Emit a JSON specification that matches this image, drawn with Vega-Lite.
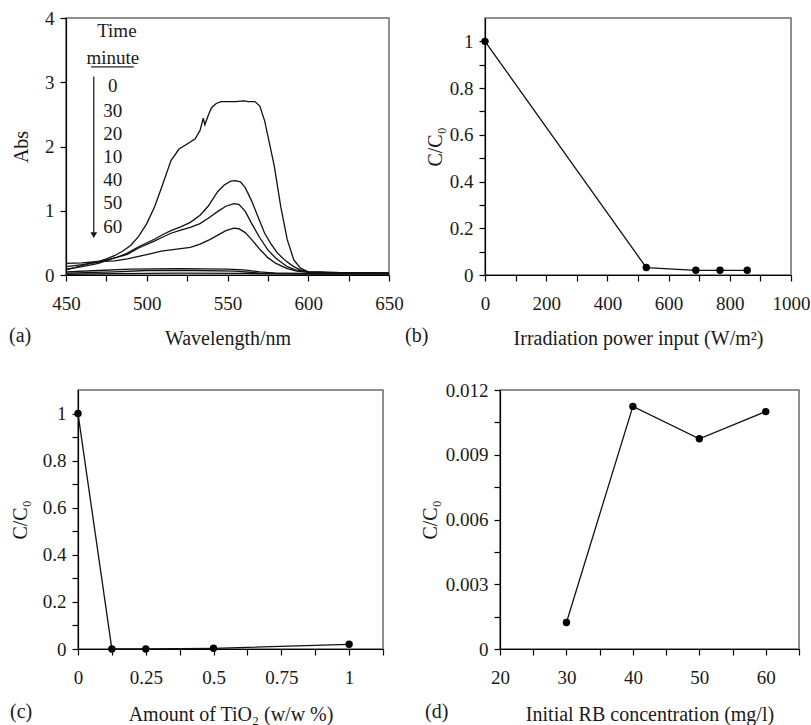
{
  "$schema": "https://vega.github.io/schema/vega-lite/v6.json",
  "background": "white",
  "padding": {"left": 0, "top": 8, "right": 0, "bottom": 0},
  "datasets": {
    "spectra": [
      {"t":"0","wl":450,"abs":0.08},{"t":"0","wl":455,"abs":0.11},{"t":"0","wl":460,"abs":0.15},{"t":"0","wl":465,"abs":0.18},{"t":"0","wl":470,"abs":0.21},{"t":"0","wl":475,"abs":0.25},{"t":"0","wl":480,"abs":0.30},{"t":"0","wl":485,"abs":0.37},{"t":"0","wl":490,"abs":0.46},{"t":"0","wl":495,"abs":0.60},{"t":"0","wl":500,"abs":0.80},{"t":"0","wl":505,"abs":1.07},{"t":"0","wl":510,"abs":1.42},{"t":"0","wl":515,"abs":1.78},{"t":"0","wl":520,"abs":1.96},{"t":"0","wl":525,"abs":2.04},{"t":"0","wl":530,"abs":2.12},{"t":"0","wl":533,"abs":2.25},{"t":"0","wl":535,"abs":2.44},{"t":"0","wl":536,"abs":2.34},{"t":"0","wl":538,"abs":2.48},{"t":"0","wl":540,"abs":2.60},{"t":"0","wl":543,"abs":2.67},{"t":"0","wl":546,"abs":2.70},{"t":"0","wl":555,"abs":2.70},{"t":"0","wl":560,"abs":2.71},{"t":"0","wl":563,"abs":2.70},{"t":"0","wl":567,"abs":2.70},{"t":"0","wl":570,"abs":2.63},{"t":"0","wl":573,"abs":2.40},{"t":"0","wl":576,"abs":2.05},{"t":"0","wl":579,"abs":1.69},{"t":"0","wl":583,"abs":1.06},{"t":"0","wl":587,"abs":0.55},{"t":"0","wl":591,"abs":0.24},{"t":"0","wl":595,"abs":0.11},{"t":"0","wl":600,"abs":0.05},{"t":"0","wl":610,"abs":0.04},{"t":"0","wl":630,"abs":0.035},{"t":"0","wl":650,"abs":0.03},
      {"t":"30","wl":450,"abs":0.09},{"t":"30","wl":460,"abs":0.13},{"t":"30","wl":470,"abs":0.18},{"t":"30","wl":476,"abs":0.23},{"t":"30","wl":482,"abs":0.28},{"t":"30","wl":488,"abs":0.34},{"t":"30","wl":495,"abs":0.44},{"t":"30","wl":505,"abs":0.56},{"t":"30","wl":510,"abs":0.63},{"t":"30","wl":515,"abs":0.69},{"t":"30","wl":521,"abs":0.75},{"t":"30","wl":527,"abs":0.82},{"t":"30","wl":533,"abs":0.93},{"t":"30","wl":538,"abs":1.07},{"t":"30","wl":544,"abs":1.30},{"t":"30","wl":548,"abs":1.40},{"t":"30","wl":552,"abs":1.46},{"t":"30","wl":555,"abs":1.47},{"t":"30","wl":558,"abs":1.45},{"t":"30","wl":561,"abs":1.36},{"t":"30","wl":565,"abs":1.15},{"t":"30","wl":569,"abs":0.90},{"t":"30","wl":573,"abs":0.65},{"t":"30","wl":577,"abs":0.48},{"t":"30","wl":581,"abs":0.34},{"t":"30","wl":586,"abs":0.22},{"t":"30","wl":591,"abs":0.13},{"t":"30","wl":595,"abs":0.08},{"t":"30","wl":600,"abs":0.05},{"t":"30","wl":620,"abs":0.035},{"t":"30","wl":650,"abs":0.03},
      {"t":"20","wl":450,"abs":0.13},{"t":"20","wl":460,"abs":0.16},{"t":"20","wl":470,"abs":0.20},{"t":"20","wl":476,"abs":0.24},{"t":"20","wl":482,"abs":0.28},{"t":"20","wl":488,"abs":0.32},{"t":"20","wl":495,"abs":0.42},{"t":"20","wl":505,"abs":0.53},{"t":"20","wl":509,"abs":0.58},{"t":"20","wl":515,"abs":0.65},{"t":"20","wl":521,"abs":0.70},{"t":"20","wl":527,"abs":0.74},{"t":"20","wl":533,"abs":0.80},{"t":"20","wl":539,"abs":0.90},{"t":"20","wl":544,"abs":0.99},{"t":"20","wl":549,"abs":1.07},{"t":"20","wl":554,"abs":1.11},{"t":"20","wl":557,"abs":1.10},{"t":"20","wl":561,"abs":0.99},{"t":"20","wl":565,"abs":0.80},{"t":"20","wl":570,"abs":0.58},{"t":"20","wl":575,"abs":0.39},{"t":"20","wl":580,"abs":0.26},{"t":"20","wl":587,"abs":0.13},{"t":"20","wl":592,"abs":0.08},{"t":"20","wl":600,"abs":0.05},{"t":"20","wl":620,"abs":0.035},{"t":"20","wl":650,"abs":0.03},
      {"t":"10","wl":450,"abs":0.18},{"t":"10","wl":460,"abs":0.19},{"t":"10","wl":470,"abs":0.21},{"t":"10","wl":480,"abs":0.22},{"t":"10","wl":488,"abs":0.25},{"t":"10","wl":495,"abs":0.29},{"t":"10","wl":502,"abs":0.33},{"t":"10","wl":509,"abs":0.37},{"t":"10","wl":515,"abs":0.39},{"t":"10","wl":521,"abs":0.41},{"t":"10","wl":527,"abs":0.43},{"t":"10","wl":533,"abs":0.48},{"t":"10","wl":539,"abs":0.55},{"t":"10","wl":544,"abs":0.62},{"t":"10","wl":549,"abs":0.69},{"t":"10","wl":554,"abs":0.73},{"t":"10","wl":557,"abs":0.72},{"t":"10","wl":561,"abs":0.66},{"t":"10","wl":565,"abs":0.55},{"t":"10","wl":570,"abs":0.40},{"t":"10","wl":575,"abs":0.27},{"t":"10","wl":580,"abs":0.18},{"t":"10","wl":587,"abs":0.10},{"t":"10","wl":593,"abs":0.06},{"t":"10","wl":600,"abs":0.04},{"t":"10","wl":620,"abs":0.035},{"t":"10","wl":650,"abs":0.03},
      {"t":"40","wl":450,"abs":0.05},{"t":"40","wl":470,"abs":0.07},{"t":"40","wl":490,"abs":0.09},{"t":"40","wl":520,"abs":0.10},{"t":"40","wl":550,"abs":0.09},{"t":"40","wl":560,"abs":0.08},{"t":"40","wl":570,"abs":0.05},{"t":"40","wl":580,"abs":0.03},{"t":"40","wl":600,"abs":0.025},{"t":"40","wl":650,"abs":0.02},
      {"t":"50","wl":450,"abs":0.03},{"t":"50","wl":480,"abs":0.05},{"t":"50","wl":500,"abs":0.07},{"t":"50","wl":530,"abs":0.07},{"t":"50","wl":555,"abs":0.06},{"t":"50","wl":570,"abs":0.03},{"t":"50","wl":600,"abs":0.02},{"t":"50","wl":650,"abs":0.02},
      {"t":"60","wl":450,"abs":0.012},{"t":"60","wl":480,"abs":0.02},{"t":"60","wl":520,"abs":0.03},{"t":"60","wl":560,"abs":0.025},{"t":"60","wl":600,"abs":0.015},{"t":"60","wl":650,"abs":0.015}
    ],
    "legendText": [
      {"label":"Time","wl":481.5,"abs":3.79},
      {"label":"minute","wl":479,"abs":3.37},
      {"label":"0","wl":479,"abs":2.94},
      {"label":"30","wl":479,"abs":2.56},
      {"label":"20","wl":479,"abs":2.19},
      {"label":"10","wl":479,"abs":1.84},
      {"label":"40","wl":479,"abs":1.48},
      {"label":"50","wl":479,"abs":1.12},
      {"label":"60","wl":479,"abs":0.75}
    ],
    "power": [
      {"p":0,"r":1},{"p":527,"r":0.032},{"p":689,"r":0.02},{"p":768,"r":0.02},{"p":857,"r":0.02}
    ],
    "tio2": [
      {"a":0,"r":1},{"a":0.125,"r":0},{"a":0.25,"r":0},{"a":0.5,"r":0.003},{"a":1,"r":0.02}
    ],
    "rb": [
      {"c":30,"r":0.00123},{"c":40,"r":0.01124},{"c":50,"r":0.00974},{"c":60,"r":0.0110}
    ]
  },
  "spacing": 31,
  "vconcat": [
    {
      "bounds": "full",
      "spacing": 0,
      "hconcat": [
        {
          "width": 8,
          "height": 1,
          "view": {"stroke": null},
          "data": {"values": [{}]},
          "mark": {"type": "point", "opacity": 0, "size": 1}
        },
        {
          "width": 323,
          "height": 257,
          "title": {"text": "(a)", "orient": "bottom", "anchor": "start", "frame": "group", "dx": -57, "offset": 0, "dy": -22},
          "layer": [
            {
              "data": {"name": "spectra"},
              "mark": {"type": "line", "color": "#111", "strokeWidth": 1.3},
              "encoding": {
                "x": {"field": "wl", "type": "quantitative", "scale": {"domain": [450, 650], "nice": false},
                  "axis": {"title": "Wavelength/nm", "values": [450,475,500,525,550,575,600,625,650], "format": "d", "labelExpr": "datum.value % 50 === 0 ? datum.label : ''", "minExtent": 28, "maxExtent": 28, "titlePadding": 25, "labelPadding": 13}},
                "y": {"field": "abs", "type": "quantitative", "scale": {"domain": [0, 4], "nice": false},
                  "axis": {"title": "Abs", "format": ".1~f", "values": [0,0.5,1,1.5,2,2.5,3,3.5,4], "labelExpr": "datum.value % 1 === 0 ? datum.label : ''", "titlePadding": 13}},
                "detail": {"field": "t"}
              }
            },
            {
              "data": {"name": "legendText"},
              "mark": {"type": "text", "fontSize": 19, "font": "Liberation Serif, Times New Roman, serif", "color": "#1a1a1a", "align": "center", "baseline": "middle"},
              "encoding": {
                "x": {"field": "wl", "type": "quantitative"},
                "y": {"field": "abs", "type": "quantitative"},
                "text": {"field": "label"}
              }
            },
            {
              "data": {"values": [{}]},
              "mark": {"type": "rule", "color": "#222", "strokeWidth": 1.2},
              "encoding": {"x": {"datum": 465.5}, "x2": {"datum": 492}, "y": {"datum": 3.24}}
            },
            {
              "data": {"values": [{}]},
              "mark": {"type": "rule", "color": "#111", "strokeWidth": 1.2},
              "encoding": {"x": {"datum": 467.2}, "y": {"datum": 3.09}, "y2": {"datum": 0.66}}
            },
            {
              "data": {"values": [{}]},
              "mark": {"type": "point", "shape": "triangle-down", "filled": true, "color": "#111", "size": 45, "opacity": 1},
              "encoding": {"x": {"datum": 467.2}, "y": {"datum": 0.62}}
            }
          ]
        },
        {
          "width": 306,
          "height": 257,
          "title": {"text": "(b)", "orient": "bottom", "anchor": "start", "frame": "group", "dx": -80, "offset": 0, "dy": -22},
          "data": {"name": "power"},
          "mark": {"type": "line", "color": "#111", "strokeWidth": 1.3, "point": {"filled": true, "size": 55, "color": "#000", "opacity": 1}},
          "encoding": {
            "x": {"field": "p", "type": "quantitative", "scale": {"domain": [0, 1000], "nice": false},
              "axis": {"title": "Irradiation power input (W/m²)", "format": "d", "values": [0,100,200,300,400,500,600,700,800,900,1000], "labelExpr": "datum.value % 200 === 0 ? datum.label : ''", "minExtent": 28, "maxExtent": 28, "titlePadding": 25, "labelPadding": 13}},
            "y": {"field": "r", "type": "quantitative", "scale": {"domain": [0, 1.1], "nice": false},
              "axis": {"title": "C/C₀", "format": ".1~f", "values": [0,0.1,0.2,0.3,0.4,0.5,0.6,0.7,0.8,0.9,1], "labelExpr": "round(datum.value*10) % 2 === 0 ? datum.label : ''", "titlePadding": 4}}
          }
        }
      ]
    },
    {
      "bounds": "full",
      "spacing": 34,
      "hconcat": [
        {
          "bounds": "full",
          "spacing": 0,
          "hconcat": [
            {
              "width": 9,
              "height": 1,
              "view": {"stroke": null},
              "data": {"values": [{}]},
              "mark": {"type": "point", "opacity": 0, "size": 1}
            },
            {
              "width": 305,
              "height": 259,
              "title": {"text": "(c)", "orient": "bottom", "anchor": "start", "frame": "group", "dx": -68, "offset": 0, "dy": -22},
              "data": {"name": "tio2"},
              "mark": {"type": "line", "color": "#111", "strokeWidth": 1.3, "point": {"filled": true, "size": 55, "color": "#000", "opacity": 1}},
              "encoding": {
                "x": {"field": "a", "type": "quantitative", "scale": {"domain": [0, 1.125], "nice": false},
                  "axis": {"title": "Amount of TiO₂ (w/w %)", "format": ".3~f", "values": [0,0.125,0.25,0.375,0.5,0.625,0.75,0.875,1,1.125], "labelExpr": "(round(datum.value*8) % 2 === 0 && datum.value < 1.1) ? datum.label : ''", "minExtent": 28, "maxExtent": 28, "titlePadding": 27, "labelPadding": 13}},
                "y": {"field": "r", "type": "quantitative", "scale": {"domain": [0, 1.1], "nice": false},
                  "axis": {"title": "C/C₀", "format": ".1~f", "values": [0,0.1,0.2,0.3,0.4,0.5,0.6,0.7,0.8,0.9,1], "labelExpr": "round(datum.value*10) % 2 === 0 ? datum.label : ''", "titlePadding": 12}}
              }
            }
          ]
        },
        {
          "width": 299,
          "height": 259,
          "title": {"text": "(d)", "orient": "bottom", "anchor": "start", "frame": "group", "dx": -75, "offset": 0, "dy": -22},
          "data": {"name": "rb"},
          "mark": {"type": "line", "color": "#111", "strokeWidth": 1.3, "point": {"filled": true, "size": 55, "color": "#000", "opacity": 1}},
          "encoding": {
            "x": {"field": "c", "type": "quantitative", "scale": {"domain": [20, 65], "nice": false},
              "axis": {"title": "Initial RB concentration (mg/l)", "format": "d", "values": [20,25,30,35,40,45,50,55,60,65], "labelExpr": "(datum.value % 10 === 0 && datum.value <= 60) ? datum.label : ''", "minExtent": 28, "maxExtent": 28, "titlePadding": 27, "labelPadding": 13}},
            "y": {"field": "r", "type": "quantitative", "scale": {"domain": [0, 0.012], "nice": false},
              "axis": {"title": "C/C₀", "format": ".3~f", "values": [0,0.0015,0.003,0.0045,0.006,0.0075,0.009,0.0105,0.012], "labelExpr": "round(datum.value/0.0015) % 2 === 0 ? datum.label : ''", "titlePadding": 5}}
          }
        }
      ]
    }
  ],
  "config": {
    "view": {"stroke": "#6b6b6b", "strokeWidth": 1.5},
    "axis": {
      "grid": false,
      "domainColor": "#000",
      "domainWidth": 1.2,
      "tickColor": "#000",
      "tickWidth": 1.2,
      "tickSize": 6,
      "labelFont": "Liberation Serif, Times New Roman, serif",
      "labelFontSize": 19,
      "labelColor": "#1a1a1a",
      "labelPadding": 6,
      "labelOverlap": false,
      "labelFlush": false,
      "labelBound": false,
      "titleFont": "Liberation Serif, Times New Roman, serif",
      "titleFontSize": 20,
      "titleFontWeight": "normal",
      "titleColor": "#1a1a1a"
    },
    "title": {"font": "Liberation Serif, Times New Roman, serif", "fontSize": 20, "fontWeight": "normal", "color": "#1a1a1a"}
  }
}
